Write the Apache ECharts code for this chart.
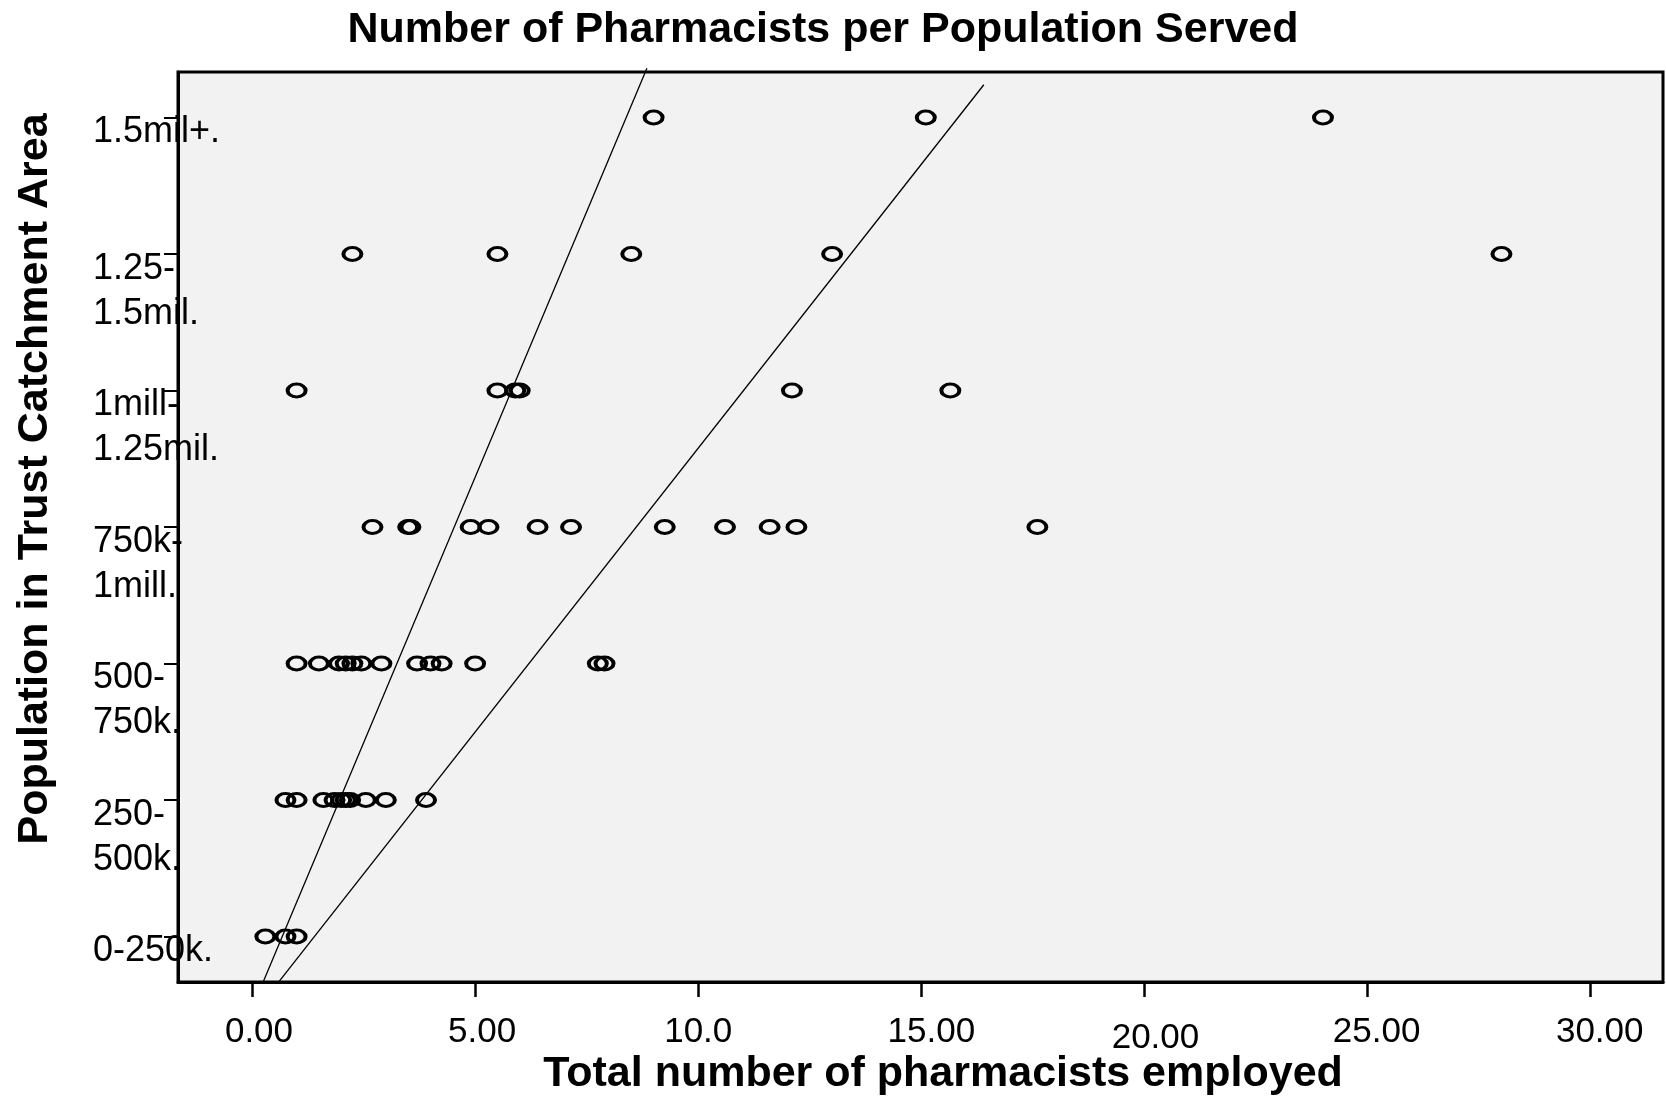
<!DOCTYPE html>
<html>
<head>
<meta charset="utf-8">
<title>Number of Pharmacists per Population Served</title>
<script src="https://cdn.jsdelivr.net/npm/echarts@6/dist/echarts.min.js"></script>
<style>
  html, body { margin: 0; padding: 0; background: #ffffff; }
  #chart { width: 1666px; height: 1097px; }
</style>
</head>
<body>
<div id="chart"></div>
<script>
// Population bands (y axis categories, bottom to top): [first line, second line]
const populationBands = [
  ['0-250k.', ''],
  ['250-', '500k.'],
  ['500-', '750k.'],
  ['750k-', '1mill.'],
  ['1mill-', '1.25mil.'],
  ['1.25-', '1.5mil.'],
  ['1.5mil+.', '']
];

// Total pharmacists employed, one value per trust, grouped by band
const pharmacists0to250k   = [0.3, 0.75, 1.0];
const pharmacists250to500k = [0.75, 1.0, 1.6, 1.85, 2.0, 2.1, 2.2, 2.55, 3.0, 3.9];
const pharmacists500to750k = [1.0, 1.5, 1.95, 2.1, 2.25, 2.45, 2.9, 3.7, 4.0, 4.25, 5.0, 7.75, 7.9];
const pharmacists750kto1m  = [2.7, 3.5, 3.55, 4.9, 5.3, 6.4, 7.15, 9.25, 10.6, 11.6, 12.2, 17.6];
const pharmacists1mto125m  = [1.0, 5.5, 5.9, 6.0, 12.1, 15.65];
const pharmacists125to15m  = [2.25, 5.5, 8.5, 13.0, 28.0];
const pharmacists15mPlus   = [9.0, 15.1, 24.0];

// Two fit lines, given by their end points [pharmacists, band position]
const fitLineSteep   = [[0.25, -0.333], [8.85, 6.36]];
const fitLineShallow = [[0.6, -0.333], [16.4, 6.24]];

// X axis ticks and their printed labels
const xTickValues = [0, 5, 10, 15, 20, 25, 30];
const xTickLabels = ['0.00', '5.00', '10.0', '15.00', '20.00', '25.00', '30.00'];

const bandGroups = [
  pharmacists0to250k, pharmacists250to500k, pharmacists500to750k,
  pharmacists750kto1m, pharmacists1mto125m, pharmacists125to15m, pharmacists15mPlus
];
const points = [];
bandGroups.forEach((group, band) => {
  group.forEach(v => points.push([v, band]));
});

const FONT = '"Liberation Sans", Arial, Helvetica, sans-serif';
const tickFont = { fontFamily: FONT, fontSize: 35, color: '#000' };
const bandFont = { fontFamily: FONT, fontSize: 36, color: '#000' };

// small per-label nudges of the printed tick text
const xLabelRich = {
  t0:  Object.assign({ padding: [0, 0, 0, 14] }, tickFont),
  t5:  Object.assign({ padding: [0, 0, 0, 14] }, tickFont),
  t10: Object.assign({ padding: [0, 0, 0, 0] }, tickFont),
  t15: Object.assign({ padding: [0, 0, 0, 20] }, tickFont),
  t20: Object.assign({ padding: [6, 0, 0, 22] }, tickFont),
  t25: Object.assign({ padding: [0, 0, 0, 18] }, tickFont),
  t30: Object.assign({ padding: [0, 0, 0, 18] }, tickFont)
};

const chart = echarts.init(document.getElementById('chart'), null, { renderer: 'canvas' });

chart.setOption({
  backgroundColor: '#ffffff',
  animation: false,
  title: {
    text: 'Number of Pharmacists per Population Served',
    left: 823,
    top: 9,
    textAlign: 'center',
    padding: 0,
    textStyle: { fontFamily: FONT, fontSize: 43, fontWeight: 'bold', color: '#000' }
  },
  grid: {
    left: 178, top: 72, right: 3, bottom: 115,
    containLabel: false,
    outerBoundsMode: 'none',
    show: true,
    backgroundColor: '#f2f2f2',
    borderColor: '#000',
    borderWidth: 3
  },
  xAxis: {
    type: 'value',
    min: -1.658,
    max: 31.62,
    name: 'Total number of pharmacists employed',
    nameLocation: 'middle',
    nameGap: 71,
    nameMoveOverlap: false,
    nameTextStyle: {
      fontFamily: FONT, fontSize: 43, fontWeight: 'bold', color: '#000',
      padding: [0, 0, 0, 45]
    },
    axisLine: { show: true, onZero: false, lineStyle: { color: '#000', width: 3 } },
    axisTick: {
      show: true, inside: false, length: 15,
      customValues: xTickValues,
      lineStyle: { color: '#000', width: 2.5 }
    },
    axisLabel: {
      show: true,
      margin: 33,
      customValues: xTickValues,
      formatter: v => '{t' + v + '|' + xTickLabels[xTickValues.indexOf(v)] + '}',
      rich: xLabelRich
    },
    splitLine: { show: false }
  },
  yAxis: {
    type: 'value',
    min: -1 / 3,
    max: 6 + 1 / 3,
    name: 'Population in Trust Catchment Area',
    nameLocation: 'middle',
    nameRotate: 90,
    nameGap: 121,
    nameMoveOverlap: false,
    nameTextStyle: {
      fontFamily: FONT, fontSize: 43, fontWeight: 'bold', color: '#000',
      padding: [0, 0, 0, 96]
    },
    axisLine: { show: true, onZero: false, lineStyle: { color: '#000', width: 3 } },
    axisTick: {
      show: true, inside: false, length: 14,
      customValues: [0, 1, 2, 3, 4, 5, 6],
      lineStyle: { color: '#000', width: 2 }
    },
    axisLabel: {
      show: true,
      customValues: [0, 1, 2, 3, 4, 5, 6],
      formatter: v => {
        const b = populationBands[v];
        return b[1] ? '{a|' + b[0] + '}\n{b|' + b[1] + '}' : '{a|' + b[0] + '}';
      },
      align: 'left',
      verticalAlign: 'top',
      margin: 85,
      rich: {
        a: Object.assign({ lineHeight: 30, align: 'left' }, bandFont),
        b: Object.assign({ lineHeight: 60, align: 'left' }, bandFont)
      }
    },
    splitLine: { show: false }
  },
  series: [
    {
      name: 'Trusts',
      type: 'scatter',
      data: points,
      symbol: 'circle',
      symbolSize: [18, 13],
      itemStyle: { color: 'rgba(0,0,0,0)', borderColor: '#000', borderWidth: 3.4, opacity: 1 },
      z: 3
    },
    {
      name: 'Fit A',
      type: 'line',
      data: fitLineSteep,
      symbol: 'none',
      clip: false,
      lineStyle: { color: '#000', width: 1.3 },
      z: 2
    },
    {
      name: 'Fit B',
      type: 'line',
      data: fitLineShallow,
      symbol: 'none',
      clip: false,
      lineStyle: { color: '#000', width: 1.3 },
      z: 2
    }
  ]
});
</script>
</body>
</html>
